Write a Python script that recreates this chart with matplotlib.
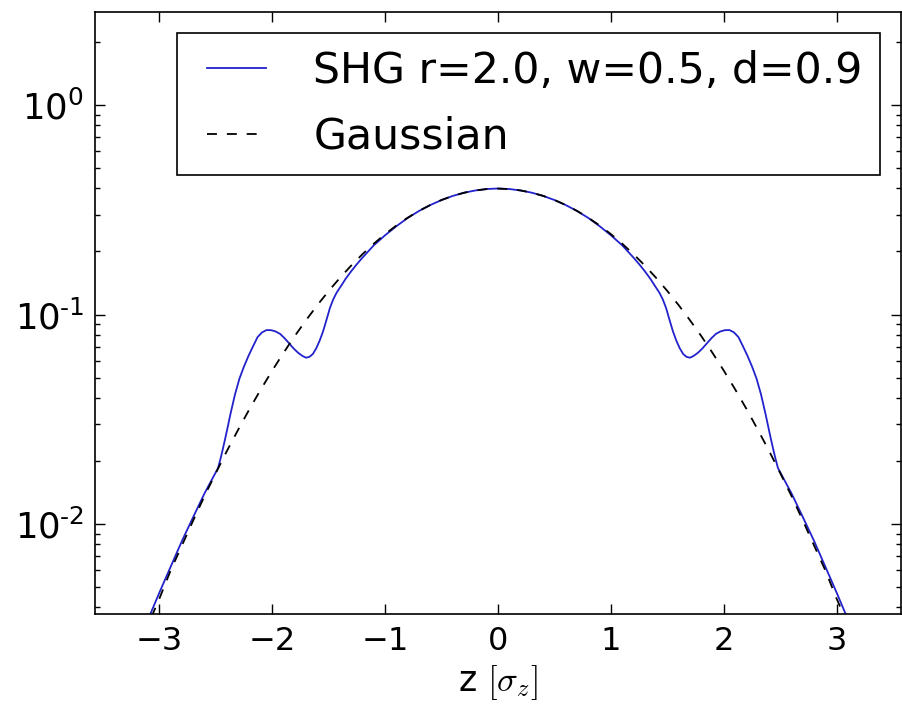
"""Skewed-Gaussian (SHG) longitudinal profile vs a plain Gaussian, log scale."""

import matplotlib
matplotlib.use("Agg")
import matplotlib.pyplot as plt
import matplotlib.ticker as mticker
import numpy as np

plt.rcParams["mathtext.fontset"] = "cm"
plt.rcParams["font.family"] = ["DejaVu Sans"]

SHG_COLOR = "#2222cc"
GAUSS_COLOR = "k"

# values (left half, then right half)
shg_z = [-3.2, -3.1, -3.0, -2.9, -2.8, -2.7, -2.6, -2.48, -2.46, -2.44,
         -2.42, -2.40, -2.37, -2.33, -2.29, -2.25, -2.21, -2.17, -2.13,
         -2.09, -2.05, -2.01, -1.97, -1.93, -1.89, -1.85, -1.81, -1.77,
         -1.73, -1.70, -1.67, -1.64, -1.61, -1.58, -1.55, -1.52, -1.49,
         -1.46, -1.43, -1.39, -1.35, -1.30, -1.25, -1.2, -1.1, -1.0, -0.9,
         -0.8, -0.7, -0.6, -0.5, -0.4, -0.3, -0.2, -0.1, 0.0,
         0.1, 0.2, 0.3, 0.4, 0.5, 0.6, 0.7, 0.8, 0.9, 1.0, 1.1, 1.2, 1.25,
         1.30, 1.35, 1.39, 1.43, 1.46, 1.49, 1.52, 1.55, 1.58, 1.61, 1.64,
         1.67, 1.70, 1.73, 1.77, 1.81, 1.85, 1.89, 1.93, 1.97, 2.01, 2.05,
         2.09, 2.13, 2.17, 2.21, 2.25, 2.29, 2.33, 2.37, 2.40, 2.42, 2.44,
         2.46, 2.48, 2.6, 2.7, 2.8, 2.9, 3.0, 3.1, 3.2]
shg_p = [0.00255, 0.0035, 0.0047, 0.00625, 0.0083, 0.0108, 0.0140, 0.0185,
         0.0203, 0.0225, 0.0251, 0.0281, 0.0335, 0.0415, 0.0495, 0.0565,
         0.0635, 0.0705, 0.0780, 0.0822, 0.0843, 0.0842, 0.0830, 0.0808,
         0.0770, 0.0728, 0.0688, 0.0656, 0.0633, 0.0622, 0.0628, 0.0648,
         0.0690, 0.0750, 0.0830, 0.0940, 0.1070, 0.1180, 0.1270, 0.1370,
         0.1480, 0.1610, 0.1740, 0.1870, 0.2140, 0.2390, 0.2640, 0.2890,
         0.3120, 0.3330, 0.3520, 0.3683, 0.3814, 0.3910, 0.3972, 0.3995,
         0.3972, 0.3910, 0.3814, 0.3683, 0.3520, 0.3330, 0.3120, 0.2890,
         0.2640, 0.2390, 0.2140, 0.1870, 0.1740, 0.1610, 0.1480, 0.1370,
         0.1270, 0.1180, 0.1070, 0.0940, 0.0830, 0.0750, 0.0690, 0.0648,
         0.0628, 0.0622, 0.0633, 0.0656, 0.0688, 0.0728, 0.0770, 0.0808,
         0.0830, 0.0842, 0.0843, 0.0822, 0.0780, 0.0705, 0.0635, 0.0565,
         0.0495, 0.0415, 0.0335, 0.0281, 0.0251, 0.0225, 0.0203, 0.0185,
         0.0140, 0.0108, 0.0083, 0.00625, 0.0047, 0.0035, 0.00255]

gauss_z = [-3.2, -3.1, -3.0, -2.9, -2.8, -2.7, -2.6, -2.5, -2.4, -2.3, -2.2,
           -2.1, -2.0, -1.9, -1.8, -1.7, -1.6, -1.5, -1.4, -1.3, -1.2, -1.1,
           -1.0, -0.9, -0.8, -0.7, -0.6, -0.5, -0.4, -0.3, -0.2, -0.1, 0.0,
           0.1, 0.2, 0.3, 0.4, 0.5, 0.6, 0.7, 0.8, 0.9, 1.0, 1.1, 1.2, 1.3,
           1.4, 1.5, 1.6, 1.7, 1.8, 1.9, 2.0, 2.1, 2.2, 2.3, 2.4, 2.5, 2.6,
           2.7, 2.8, 2.9, 3.0, 3.1, 3.2]
gauss_p = [0.0024, 0.0033, 0.0044, 0.0060, 0.0079, 0.0104, 0.0136, 0.0175,
           0.0224, 0.0283, 0.0355, 0.0440, 0.0540, 0.0656, 0.0790, 0.0940,
           0.1109, 0.1295, 0.1497, 0.1714, 0.1942, 0.2179, 0.2420, 0.2661,
           0.2897, 0.3123, 0.3332, 0.3521, 0.3683, 0.3814, 0.3910, 0.3970,
           0.3989,
           0.3970, 0.3910, 0.3814, 0.3683, 0.3521, 0.3332, 0.3123, 0.2897,
           0.2661, 0.2420, 0.2179, 0.1942, 0.1714, 0.1497, 0.1295, 0.1109,
           0.0940, 0.0790, 0.0656, 0.0540, 0.0440, 0.0355, 0.0283, 0.0224,
           0.0175, 0.0136, 0.0104, 0.0079, 0.0060, 0.0044, 0.0033, 0.0024]

shg_label = "SHG r=2.0, w=0.5, d=0.9"
gauss_label = "Gaussian"


def _log_label(val, pos):
    e = int(round(np.log10(val)))
    if e < 0:
        return r"$\mathdefault{10^{\text{-}%d}}$" % (-e)
    return r"$\mathdefault{10^{%d}}$" % e


fig = plt.figure(figsize=(9.03, 7.05), dpi=100)
ax = fig.add_axes([0.1052, 0.1291, 0.8926, 0.8539])

ax.plot(shg_z, shg_p, color=SHG_COLOR, lw=1.3, label=shg_label)
ax.plot(gauss_z, gauss_p, color=GAUSS_COLOR, lw=1.3, dashes=(5.5, 5.5),
        label=gauss_label)

ax.set_yscale("log")
ax.set_xlim(-3.57, 3.57)
ax.set_ylim(0.00372, 2.78)
ax.set_xticks([-3, -2, -1, 0, 1, 2, 3])
ax.xaxis.set_minor_locator(mticker.NullLocator())
ax.yaxis.set_major_locator(mticker.FixedLocator([0.01, 0.1, 1.0]))
ax.yaxis.set_major_formatter(mticker.FuncFormatter(_log_label))
ax.yaxis.set_minor_locator(mticker.LogLocator(base=10, subs=np.arange(2, 10)))
ax.yaxis.set_minor_formatter(mticker.NullFormatter())

ax.tick_params(which="both", direction="in", top=True, right=True)
ax.tick_params(which="major", length=7, width=1)
ax.tick_params(which="minor", length=3.5, width=1)
ax.tick_params(axis="x", labelsize=23, pad=9)
ax.tick_params(axis="y", labelsize=25.5, pad=8)
for s in ax.spines.values():
    s.set_linewidth(1.2)

ax.set_xlabel(r"z $[\sigma_z]$", fontsize=25, labelpad=4)

# old-style legend: two-point handles, 2 em long
leg = ax.legend(loc="upper right", borderaxespad=0.5, fontsize=30.7,
                numpoints=2, handlelength=2.0, handletextpad=0.8,
                labelspacing=0.55, borderpad=0.4,
                fancybox=False, framealpha=1)
leg.get_frame().set_edgecolor("k")
leg.get_frame().set_linewidth(1.2)

fig.savefig("out.png", dpi=100)
